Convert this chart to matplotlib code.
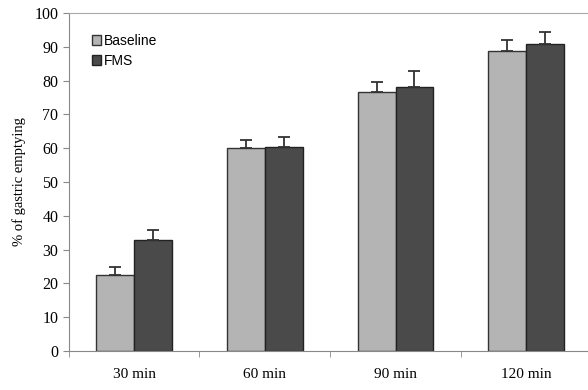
import matplotlib
matplotlib.use('Agg')
import matplotlib.pyplot as plt
import numpy as np

categories = ['30 min', '60 min', '90 min', '120 min']
baseline = [22.5, 60.0, 76.7, 88.8]
baseline_err = [2.3, 2.3, 2.8, 3.1]
fms = [32.7, 60.3, 78.0, 90.9]
fms_err = [3.0, 3.0, 4.9, 3.5]

fig = plt.figure(figsize=(5.88, 3.9), dpi=100)
ax = fig.add_axes([0.117, 0.1, 0.889, 0.8667])

x = np.arange(len(categories))
w = 0.29
ax.bar(x - w/2, baseline, w, color='#b4b4b4', edgecolor='#333333', linewidth=1.0,
       yerr=[np.zeros(4), baseline_err], capsize=4, error_kw=dict(ecolor='#333333', elinewidth=1.3, capthick=1.3),
       label='Baseline', zorder=2)
ax.bar(x + w/2, fms, w, color='#4a4a4a', edgecolor='#222222', linewidth=1.0,
       yerr=[np.zeros(4), fms_err], capsize=4, error_kw=dict(ecolor='#333333', elinewidth=1.3, capthick=1.3),
       label='FMS', zorder=2)

ax.set_xlim(-0.5, 3.5)
ax.set_ylim(0, 100)
ax.set_yticks(range(0, 101, 10))
ax.set_xticks(x)
ax.set_xticklabels(categories, family='Liberation Serif', fontsize=11)
ax.set_xticks(np.arange(-0.5, 4, 1), minor=True)
ax.tick_params(axis='x', which='major', length=0, pad=12)
ax.tick_params(axis='x', which='minor', length=4, color='#888888', direction='out')
ax.tick_params(axis='y', length=4, color='#888888', labelsize=11.5)
for lab in ax.get_yticklabels():
    lab.set_family('Liberation Serif')

ax.set_ylabel('% of gastric emptying', family='Liberation Serif', fontsize=10.5, labelpad=6)

ax.spines['right'].set_visible(False)
ax.spines['top'].set_color('#aaaaaa')
ax.spines['left'].set_color('#888888')
ax.spines['bottom'].set_color('#888888')

ax.legend(loc='upper left', bbox_to_anchor=(0.02, 0.975), frameon=False,
          prop={'family': 'Liberation Sans', 'size': 10}, handlelength=0.7,
          handleheight=0.7, handletextpad=0.2, labelspacing=0.45)

plt.savefig('out.png', dpi=100)
